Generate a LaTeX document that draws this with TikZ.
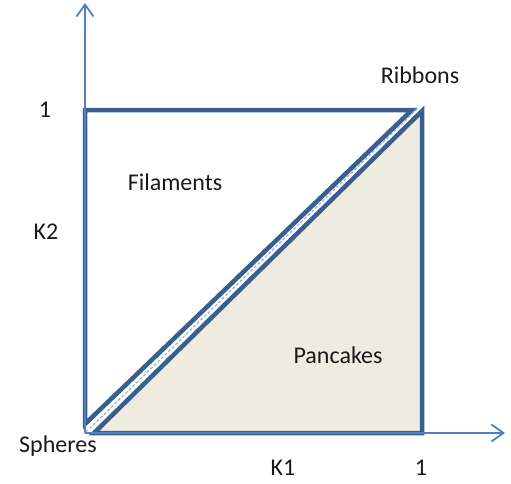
\documentclass[tikz,border=0pt]{standalone}
\usepackage{fontspec}
\setmainfont{Carlito}
\usetikzlibrary{arrows.meta}
\definecolor{axisblue}{HTML}{4F81BD}
\definecolor{darkblue}{HTML}{3A5F8F}
\definecolor{beige}{HTML}{EEECE1}
\tikzset{
  axisline/.style={axisblue, line width=1.8pt, -{Straight Barb[length=12pt,width=17pt,line width=1.8pt]}},
  region/.style={darkblue, line width=4.5pt, line join=miter},
  lbl/.style={font=\fontsize{24}{28}\selectfont, text=black!90, inner sep=0pt}
}
\begin{document}
\begin{tikzpicture}[x=1pt,y=-1pt]
\useasboundingbox (0,0) rectangle (511,483);
% pancakes
\fill[beige] (94,433) -- (422,111) -- (422,433) -- cycle;
\draw[region] (94,433) -- (422,111) -- (422,433) -- cycle;
% filaments
\draw[region] (85,110) -- (412,110) -- (85,424) -- cycle;
% diagonal
\draw[axisblue!60, line width=1.2pt, dash pattern=on 3pt off 2pt] (86,432) -- (417,109);
% axes
\coordinate (O) at (85,433);
\coordinate (Ytop) at (85,3);
\coordinate (Xend) at (505,433);
\draw[axisline] (O) -- (Ytop);
\draw[axisline] (O) -- (Xend);
% labels
\node[lbl] (one2) at (45,110) {1};
\node[lbl] (k2) at (46,232) {K2};
\node[lbl] (fil) at (175,182) {Filaments};
\node[lbl] (rib) at (420,75) {Ribbons};
\node[lbl] (pan) at (338,355) {Pancakes};
\node[lbl] (sph) at (58,446) {Spheres};
\node[lbl] (k1) at (283,468) {K1};
\node[lbl] (one1) at (421,468) {1};
\end{tikzpicture}
\end{document}
